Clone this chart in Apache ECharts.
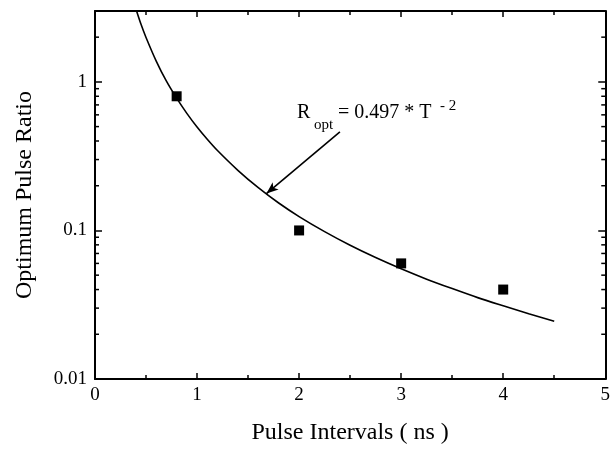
<!DOCTYPE html>
<html>
<head>
<meta charset="utf-8">
<script src="https://cdn.jsdelivr.net/npm/echarts@6/dist/echarts.min.js"></script>
<style>
    html, body { margin: 0; padding: 0; background: #fff; }
    #chart { width: 613px; height: 455px; }
</style>
</head>
<body>
<div id="chart"></div>
<script>
    // measured points
    var pulseT = [0.8, 2, 3, 4];
    var pulseR = [0.8, 0.1, 0.06, 0.04];
    // fitted curve
    var curveT = [0.4, 0.45, 0.5, 0.6, 0.7, 0.8, 0.9, 1.0, 1.1, 1.2, 1.4, 1.6, 1.8, 2.0, 2.25, 2.5, 2.75, 3.0, 3.25, 3.5, 3.75, 4.0, 4.25, 4.5];
    var curveR = [3.11, 2.45, 1.99, 1.38, 1.01, 0.777, 0.614, 0.497, 0.411, 0.345, 0.254, 0.194, 0.153, 0.124, 0.0982, 0.0795, 0.0657, 0.0552, 0.0470, 0.0406, 0.0353, 0.0311, 0.0275, 0.0245];
    // minor ticks of the log axis
    var logMinorTicks = [0.02, 0.03, 0.04, 0.05, 0.06, 0.07, 0.08, 0.09, 0.2, 0.3, 0.4, 0.5, 0.6, 0.7, 0.8, 0.9, 2];
    var arrowFrom = [2.4, 0.46];
    var arrowTo = [1.68, 0.177];

    var serif = "'Liberation Serif', 'Times New Roman', serif";
    var myChart = echarts.init(document.getElementById('chart'));

    var scatterData = [], curveData = [], tickData = [];
    for (var i = 0; i < pulseT.length; i++) scatterData.push([pulseT[i], pulseR[i]]);
    for (var j = 0; j < curveT.length; j++) curveData.push([curveT[j], curveR[j]]);
    for (var k = 0; k < logMinorTicks.length; k++) tickData.push([0, logMinorTicks[k]]);

    var axisLine = { show: true, onZero: false, lineStyle: { color: '#000', width: 2 } };
    var option = {
        backgroundColor: '#fff',
        animation: false,
        grid: { left: 95, right: 2, top: 11, bottom: 76 },
        xAxis: [
            {
                type: 'value', position: 'bottom', min: 0, max: 5, interval: 1,
                name: 'Pulse Intervals ( ns )', nameLocation: 'middle', nameGap: 42,
                nameTextStyle: { fontFamily: serif, fontSize: 24, color: '#000' },
                axisLine: axisLine,
                axisTick: { inside: true, length: 6, lineStyle: { color: '#000', width: 1.5 } },
                minorTick: { show: true, splitNumber: 2, length: 4, lineStyle: { color: '#000', width: 1.5 } },
                axisLabel: { fontFamily: serif, fontSize: 19, color: '#000', margin: 7 },
                splitLine: { show: false }
            },
            {
                type: 'value', position: 'top', min: 0, max: 5, interval: 1,
                axisLine: axisLine,
                axisTick: { inside: true, length: 6, lineStyle: { color: '#000', width: 1.5 } },
                minorTick: { show: true, splitNumber: 2, length: 4, lineStyle: { color: '#000', width: 1.5 } },
                axisLabel: { show: false },
                splitLine: { show: false }
            }
        ],
        yAxis: [
            {
                type: 'log', position: 'left', min: 0.01, max: 3, logBase: 10,
                name: 'Optimum Pulse Ratio', nameLocation: 'middle', nameGap: 58,
                nameTextStyle: { fontFamily: serif, fontSize: 24, color: '#000' },
                axisLine: axisLine,
                axisTick: { inside: true, length: 7, lineStyle: { color: '#000', width: 1.5 } },
                axisLabel: {
                    fontFamily: serif, fontSize: 19, color: '#000', margin: 8,
                    formatter: function (v) { return v > 1.5 ? '' : String(v); }
                },
                splitLine: { show: false }
            },
            {
                type: 'log', position: 'right', min: 0.01, max: 3, logBase: 10,
                axisLine: axisLine,
                axisTick: { inside: true, length: 7, lineStyle: { color: '#000', width: 1.5 } },
                axisLabel: { show: false },
                splitLine: { show: false }
            }
        ],
        series: [
            {
                // log minor ticks on left and right frame
                type: 'custom',
                data: tickData,
                silent: true,
                renderItem: function (params, api) {
                    var l = api.coord([0, api.value(1)]);
                    var r = api.coord([5, api.value(1)]);
                    var st = { stroke: '#000', lineWidth: 1.5 };
                    return {
                        type: 'group',
                        children: [
                            { type: 'line', shape: { x1: l[0], y1: l[1], x2: l[0] + 4, y2: l[1] }, style: st },
                            { type: 'line', shape: { x1: r[0], y1: r[1], x2: r[0] - 4, y2: r[1] }, style: st }
                        ]
                    };
                }
            },
            {
                type: 'line',
                data: curveData,
                smooth: 0.3,
                showSymbol: false,
                clip: true,
                lineStyle: { color: '#000', width: 1.6 },
                markLine: {
                    silent: true,
                    symbol: ['none', 'arrow'],
                    symbolSize: [7, 12],
                    label: { show: false },
                    lineStyle: { color: '#000', width: 1.6, type: 'solid' },
                    data: [[{ coord: arrowFrom }, { coord: arrowTo }]]
                }
            },
            {
                type: 'scatter',
                data: scatterData,
                symbol: 'rect',
                symbolSize: 10,
                itemStyle: { color: '#000', opacity: 1 }
            }
        ],
        graphic: [
            { type: 'text', left: 297, top: 103, style: { text: 'R', font: '20px ' + serif, fill: '#000' } },
            { type: 'text', left: 314, top: 118, style: { text: 'opt', font: '15px ' + serif, fill: '#000' } },
            { type: 'text', left: 338, top: 103, style: { text: '= 0.497 * T', font: '20px ' + serif, fill: '#000' } },
            { type: 'text', left: 440, top: 99, style: { text: '- 2', font: '15px ' + serif, fill: '#000' } }
        ]
    };
    myChart.setOption(option);
</script>
</body>
</html>
